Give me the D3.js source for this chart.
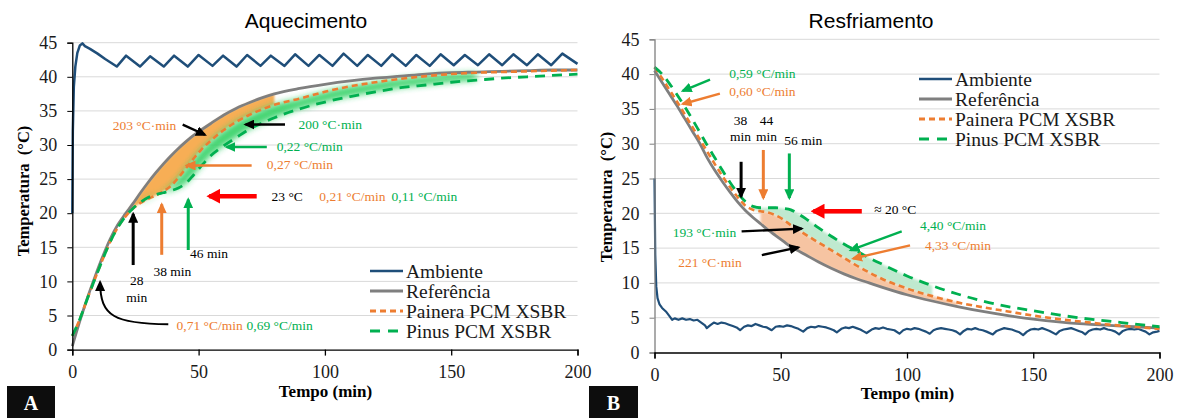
<!DOCTYPE html>
<html><head><meta charset="utf-8">
<script src="https://cdn.jsdelivr.net/npm/d3@7"></script>
<style>body{margin:0;background:#fff;}svg{display:block;}</style>
</head><body>
<svg id="chart" width="1177" height="418"></svg>
<script>
// ---------------- DATA ----------------
const seriesNames = ["Ambiente", "Referência", "Painera PCM XSBR", "Pinus PCM XSBR"];
const xTicks = [0, 50, 100, 150, 200];
const yTicks = [0, 5, 10, 15, 20, 25, 30, 35, 40, 45];
const panelTitles = ["Aquecimento", "Resfriamento"];
const panelLetters = ["A", "B"];

// Heating (Aquecimento)
const heatTime = [0,3,6,9,12,15,18,21,24,27,30,33,36,39,42,45,48,51,55,60,65,70,75,80,90,100,110,120,130,140,150,160,170,180,190,200];
const heatRef = [0.5,4.2,7.6,10.7,13.6,16.2,18.3,19.9,21.4,23.0,24.5,25.9,27.2,28.4,29.5,30.5,31.4,32.2,33.2,34.4,35.4,36.2,36.9,37.5,38.3,38.9,39.4,39.8,40.1,40.4,40.6,40.7,40.8,40.9,41.0,41.0];
const heatPainera = [2.0,4.5,7.5,10.4,13.2,15.8,17.9,19.5,20.7,21.5,22.1,22.6,23.2,24.0,25.2,26.6,28.0,29.3,30.7,32.2,33.4,34.4,35.2,35.9,36.8,37.8,38.6,39.2,39.7,40.1,40.4,40.6,40.7,40.8,40.9,41.0];
const heatPinus = [2.0,4.5,7.5,10.4,13.2,15.8,17.9,19.5,20.7,21.6,22.3,22.7,23.0,23.3,23.7,24.4,25.6,26.9,28.5,29.9,31.1,32.3,33.2,34.0,35.3,36.3,37.1,37.8,38.4,38.8,39.2,39.5,39.8,40.0,40.2,40.4];
const heatAmbTime = [0,0.2,0.6,1.2,2,3,4,5,7,10,13,17.6,21.3,26.8,30.8,36.2,40.3,45.7,50,55.5,59.7,65,69.2,74.5,78.6,84,88.2,93.5,97.8,103,107.4,112.8,117,122.3,126.6,132,136.2,141.5,145.8,151,155.4,160.6,165,170.2,174.6,180,184.3,189.6,194,200];
const heatAmb = [20,32,38.5,41.5,43.5,44.6,44.9,44.5,44.1,43.4,42.6,41.5,43.1,41.5,43.0,41.5,43.1,41.5,43.2,41.6,43.1,41.5,43.2,41.6,43.1,41.6,43.3,41.6,43.2,41.6,43.4,41.6,43.2,41.6,43.3,41.6,43.2,41.6,43.3,41.7,43.2,41.7,43.3,41.7,43.3,41.7,43.3,41.7,43.4,41.9];

// Cooling (Resfriamento)
const coolTime = [0,3,6,9,12,15,18,21,24,27,30,33,36,39,42,45,48,51,54,57,60,65,70,75,80,85,90,100,110,120,130,140,150,160,170,180,190,200];
const coolRef = [40.5,38.8,37.1,35.4,33.6,31.8,30.0,27.9,26.1,24.5,23.0,21.6,20.4,19.4,18.5,17.6,16.8,16.0,15.2,14.6,14.0,13.0,12.1,11.3,10.6,10.0,9.4,8.3,7.4,6.6,5.9,5.3,4.8,4.4,4.1,3.9,3.7,3.5];
const coolPainera = [41.0,39.4,37.7,36.0,34.2,32.4,30.6,28.8,27.0,25.3,23.7,22.3,21.1,20.5,20.3,20.1,19.7,19.1,18.3,17.6,16.9,15.8,14.7,13.6,12.5,11.5,10.6,9.2,8.1,7.2,6.5,5.9,5.3,4.8,4.4,4.0,3.7,3.4];
const coolPinus = [41.0,40.0,38.6,37.0,35.3,33.5,31.6,29.7,27.9,26.1,24.4,22.9,21.7,21.0,20.8,20.8,20.8,20.7,20.5,19.9,19.2,17.9,16.7,15.6,14.6,13.6,12.7,11.0,9.6,8.4,7.4,6.6,6.0,5.4,4.9,4.5,4.1,3.7];
const coolAmbTime = [0,0.3,0.7,1.2,2,3,4.5,6,7,8,9.5,11,12.5,14,15.5,17,18.5,20,20.7,22,23.5,25,26.5,28,29.5,31,32.5,33.9,35.5,37,38.5,40,41.5,43,44.5,46.4,48,49.5,51,52.5,54,55.5,57,58.9,60.5,62,63.5,65,66.5,68,69.5,71,72.2,74,75.5,77,78.5,80,81.5,83,84,86,87.5,89,90.5,92,93.5,95,97,98.5,100,101.5,103,104.5,106,107.5,109,110.5,112,113.5,115,116.5,118,119.5,121,122.5,124,125.5,127,128.5,130,131.5,134,135.5,137,138.5,140,141.5,143,144.5,146,147.5,149,150.5,152,153.5,155,156.5,159,160.5,162,163.5,165,166.5,168,169.5,170.6,172,173.5,175,176.5,178,179.5,181,182.5,184,185.5,187,188.5,190,191.5,193,194.5,196,197.5,199,200];
const coolAmb = [25,14,9.5,7.8,6.9,6.4,5.9,5.2,4.7,4.9,4.7,4.9,4.7,4.8,4.6,4.7,4.3,3.9,3.5,3.9,4.3,4.1,4.3,4.2,4.0,3.8,3.6,3.2,3.7,3.9,3.8,4.1,3.9,3.7,3.6,3.2,3.7,3.8,3.7,3.9,3.8,3.6,3.4,3.0,3.5,3.7,3.6,3.8,3.7,3.6,3.4,3.2,2.9,3.4,3.6,3.5,3.7,3.5,3.3,3.0,2.8,3.3,3.5,3.4,3.6,3.4,3.3,3.2,2.7,3.2,3.4,3.3,3.5,3.4,3.2,3.0,2.7,3.2,3.4,3.5,3.4,3.3,3.2,3.0,2.6,3.1,3.4,3.3,3.5,3.3,3.2,3.0,2.6,3.1,3.3,3.5,3.4,3.3,3.1,2.9,2.5,3.0,3.3,3.4,3.3,3.5,3.3,3.1,2.6,3.1,3.3,3.4,3.5,3.3,3.1,2.9,2.6,3.1,3.3,3.4,3.3,3.5,3.3,3.2,3.0,2.6,3.1,3.3,3.4,3.3,3.4,3.2,3.0,2.6,2.9,3.0,3.1];

// ---------------- STYLE ----------------
const C = {amb:"#1F4E79", ref:"#7F7F7F", pai:"#ED7D31", pin:"#00B050", red:"#FF0000", txt:"#1a1a1a"};
const SERIF = "'Liberation Serif','Times New Roman',serif";
const SANS = "'Liberation Sans',Arial,sans-serif";

const svg = d3.select("#chart");
const defs = svg.append("defs");
function marker(id, color, w, h){
  defs.append("marker").attr("id", id).attr("viewBox","0 0 10 10").attr("refX",8).attr("refY",5)
    .attr("markerUnits","userSpaceOnUse").attr("markerWidth",w).attr("markerHeight",h)
    .attr("preserveAspectRatio","none").attr("orient","auto")
    .append("path").attr("d","M0,0L10,5L0,10Z").attr("fill",color);
}
marker("mk", "#000", 11, 10); marker("mo", C.pai, 11, 10); marker("mg", C.pin, 11, 10); marker("mr", C.red, 14, 15);
function blur(id, s){ defs.append("filter").attr("id",id).attr("x","-20%").attr("y","-20%").attr("width","140%").attr("height","140%")
  .append("feGaussianBlur").attr("stdDeviation", s); }
blur("bl3", 3); blur("bl1", 1.2);

const arrowMk = {k:"mk", o:"mo", g:"mg", r:"mr"};
const arrowCol = {k:"#000", o:C.pai, g:C.pin, r:C.red};

const panels = [
  { left:72.3, right:577.5, bottom:349.6, top:42.7, yAxisColor:"#000",
    title:{x:306, y:28}, ytitle:{x:23, y:191}, xtitle:{x:325.5, y:397}, xlabPad:10,
    box:{x:7, y:386, w:48}, legend:{x:370, y:271},
    time:heatTime, ref:heatRef, pai:heatPainera, pin:heatPinus, ambT:heatAmbTime, amb:heatAmb,
    fills:[
      {a:"ref", b:"pai", from:21, to:80, color:"#F7AE55", op:1, filter:"bl1"},
      {a:"pai", b:"pin", from:27, to:165, color:"#2FD062", op:0.9, filter:"bl3"}
    ],
    arrows:[
      {c:"k", pts:[[43.7,33.0],[52.5,31.5]]},
      {c:"k", pts:[[84.2,33.0],[68.6,33.0]]},
      {c:"g", pts:[[77.0,29.7],[61.1,29.7]]},
      {c:"o", pts:[[71.0,27.0],[45.3,27.0]]},
      {c:"r", pts:[[73.0,22.5],[54.2,22.5]], w:4.5},
      {c:"k", pts:[[24.1,12.4],[24.1,19.9]], w:3},
      {c:"o", pts:[[35.4,13.9],[35.4,21.3]], w:3},
      {c:"g", pts:[[45.9,14.6],[45.9,22.0]], w:3}
    ],
    curves:[ {c:"k", pts:[[38,3.7],[17,3.8],[11,4.8],[11,9.9]]} ],
    texts:[
      {t:"203 °C·min", x:16.0, y:32.9, c:"o"},
      {t:"200 °C·min", x:89.5, y:33.0, c:"g"},
      {t:"0,22 °C/min", x:80.9, y:29.8, c:"g"},
      {t:"0,27 °C/min", x:77.0, y:27.2, c:"o"},
      {t:"23 °C", x:78.9, y:22.4, c:"k"},
      {t:"0,21 °C/min", x:97.8, y:22.4, c:"o"},
      {t:"0,11 °C/min", x:126.4, y:22.4, c:"g"},
      {t:"28", x:25.5, y:10.2, c:"k", anchor:"middle"},
      {t:"min", x:25.5, y:7.7, c:"k", anchor:"middle"},
      {t:"38 min", x:32.1, y:11.4, c:"k"},
      {t:"46 min", x:46.6, y:14.1, c:"k"},
      {t:"0,71 °C/min", x:41.3, y:3.6, c:"o"},
      {t:"0,69 °C/min", x:69.0, y:3.6, c:"g"}
    ]
  },
  { left:654.5, right:1159.5, bottom:352.5, top:39.3, yAxisColor:"#7F7F7F",
    title:{x:871, y:28}, ytitle:{x:606, y:197}, xtitle:{x:907.5, y:399}, xlabPad:10,
    box:{x:589, y:386, w:49}, legend:{x:919, y:79},
    time:coolTime, ref:coolRef, pai:coolPainera, pin:coolPinus, ambT:coolAmbTime, amb:coolAmb,
    fills:[
      {a:"pin", b:"pai", from:39, to:115, color:"#BFE9CF", op:1, filter:"bl1"},
      {a:"pai", b:"ref", from:40, to:125, color:"#F6C4A2", op:1, filter:"bl1"}
    ],
    arrows:[
      {c:"g", pts:[[22.0,39.2],[11.2,37.6]]},
      {c:"o", pts:[[25.9,37.2],[11.2,35.7]]},
      {c:"k", pts:[[34.3,27.4],[34.3,22.4]], w:3},
      {c:"o", pts:[[43.1,29.1],[43.1,22.2]], w:3},
      {c:"g", pts:[[53.4,28.6],[53.4,22.2]], w:3},
      {c:"r", pts:[[82.1,20.3],[62.9,20.3]], w:4.5},
      {c:"g", pts:[[97.9,17.4],[77.7,14.7]]},
      {c:"o", pts:[[101.2,15.4],[78.7,13.5]]},
      {c:"k", pts:[[34.5,17.4],[58.3,17.8]]},
      {c:"k", pts:[[42.5,14.0],[57.0,15.1]]}
    ],
    curves:[],
    texts:[
      {t:"0,59 °C/min", x:29.6, y:40.1, c:"g"},
      {t:"0,60 °C/min", x:29.6, y:37.5, c:"o"},
      {t:"38", x:34.1, y:33.4, c:"k", anchor:"middle"},
      {t:"min", x:34.1, y:31.0, c:"k", anchor:"middle"},
      {t:"44", x:44.4, y:33.4, c:"k", anchor:"middle"},
      {t:"min", x:44.4, y:31.0, c:"k", anchor:"middle"},
      {t:"56 min", x:58.9, y:30.5, c:"k", anchor:"middle"},
      {t:"≈ 20 °C", x:87.0, y:20.6, c:"k"},
      {t:"4,40 °C/min", x:105.1, y:18.2, c:"g"},
      {t:"4,33 °C/min", x:107.1, y:15.4, c:"o"},
      {t:"193 °C·min", x:7.2, y:17.3, c:"g"},
      {t:"221 °C·min", x:9.4, y:13.0, c:"o"}
    ]
  }
];

panels.forEach((p, pi) => {
  const x = d3.scaleLinear().domain([0,200]).range([p.left, p.right]);
  const y = d3.scaleLinear().domain([0,45]).range([p.bottom, p.top]);
  const g = svg.append("g");

  // grid
  g.selectAll("line.grid").data(yTicks.filter(d => d > 0)).join("line")
    .attr("x1", p.left).attr("x2", p.right).attr("y1", d => y(d)).attr("y2", d => y(d))
    .attr("stroke", "#D9D9D9").attr("stroke-width", 1);

  // fills
  const series = {ref:p.ref, pai:p.pai, pin:p.pin};
  p.fills.forEach(f => {
    const rows = p.time.map((t,i) => ({t, a:series[f.a][i], b:series[f.b][i]})).filter(r => r.t >= f.from && r.t <= f.to);
    const area = d3.area().x(d => x(d.t)).y0(d => y(d.a)).y1(d => y(d.b)).curve(d3.curveMonotoneX);
    g.append("path").attr("d", area(rows)).attr("fill", f.color).attr("opacity", f.op).attr("filter", `url(#${f.filter})`);
  });

  // lines
  const lineT = d3.line().x(d => x(d[0])).y(d => y(d[1]));
  const smooth = d3.line().x(d => x(d[0])).y(d => y(d[1])).curve(d3.curveMonotoneX);
  g.append("path").attr("d", lineT(p.ambT.map((t,i) => [t, p.amb[i]])))
    .attr("fill","none").attr("stroke", C.amb).attr("stroke-width", pi === 0 ? 2.5 : 2.2).attr("stroke-linejoin","round");
  g.append("path").attr("d", smooth(p.time.map((t,i) => [t, p.ref[i]])))
    .attr("fill","none").attr("stroke", C.ref).attr("stroke-width", 2.8);
  g.append("path").attr("d", smooth(p.time.map((t,i) => [t, p.pai[i]])))
    .attr("fill","none").attr("stroke", C.pai).attr("stroke-width", 2.6).attr("stroke-dasharray","6,4");
  g.append("path").attr("d", smooth(p.time.map((t,i) => [t, p.pin[i]])))
    .attr("fill","none").attr("stroke", C.pin).attr("stroke-width", 2.8).attr("stroke-dasharray","10,7");

  // axes
  const ya = g.append("g").attr("transform", `translate(${p.left},0)`)
    .call(d3.axisLeft(y).tickValues(yTicks).tickSize(5).tickPadding(10));
  ya.select(".domain").attr("stroke", p.yAxisColor).attr("stroke-width", 1.3);
  ya.selectAll(".tick line").attr("stroke", p.yAxisColor);
  ya.selectAll("text").attr("font-family", SERIF).attr("font-size", 18).attr("fill", C.txt);

  const xa = g.append("g").attr("transform", `translate(0,${p.bottom})`)
    .call(d3.axisBottom(x).tickValues(xTicks).tickSize(6).tickPadding(p.xlabPad));
  xa.select(".domain").attr("stroke", "#000").attr("stroke-width", 1.3);
  xa.selectAll(".tick line").attr("stroke", "#000").attr("stroke-width", 1.3);
  xa.selectAll("text").attr("font-family", SERIF).attr("font-size", 18).attr("fill", C.txt);

  // titles
  g.append("text").attr("x", p.title.x).attr("y", p.title.y).attr("text-anchor","middle")
    .attr("font-family", SANS).attr("font-size", 21).attr("fill", "#000").text(panelTitles[pi]);
  g.append("text").attr("transform", `translate(${p.ytitle.x},${p.ytitle.y}) rotate(-90)`)
    .attr("text-anchor","middle").attr("dominant-baseline","central")
    .attr("font-family", SERIF).attr("font-weight","bold").attr("font-size", 16.5).attr("fill", "#000")
    .attr("xml:space","preserve").text("Temperatura  (°C)");
  g.append("text").attr("x", p.xtitle.x).attr("y", p.xtitle.y).attr("text-anchor","middle")
    .attr("font-family", SERIF).attr("font-weight","bold").attr("font-size", 17).attr("fill", "#000").text("Tempo (min)");

  // letter box
  g.append("rect").attr("x", p.box.x).attr("y", p.box.y).attr("width", p.box.w).attr("height", 418 - p.box.y).attr("fill", "#0d0d0d");
  g.append("text").attr("x", p.box.x + p.box.w/2).attr("y", p.box.y + 24).attr("text-anchor","middle")
    .attr("font-family", SERIF).attr("font-weight","bold").attr("font-size", 20).attr("fill", "#fff").text(panelLetters[pi]);

  // annotations
  p.arrows.forEach(a => {
    g.append("line").attr("x1", x(a.pts[0][0])).attr("y1", y(a.pts[0][1])).attr("x2", x(a.pts[1][0])).attr("y2", y(a.pts[1][1]))
      .attr("stroke", arrowCol[a.c]).attr("stroke-width", a.w || 2.4).attr("marker-end", `url(#${arrowMk[a.c]})`);
  });
  p.curves.forEach(cv => {
    const q = cv.pts.map(d => [x(d[0]), y(d[1])]);
    g.append("path").attr("d", `M${q[0]}C${q[1]} ${q[2]} ${q[3]}`).attr("fill","none")
      .attr("stroke", arrowCol[cv.c]).attr("stroke-width", 2).attr("marker-end", `url(#${arrowMk[cv.c]})`);
  });
  p.texts.forEach(t => {
    g.append("text").attr("x", x(t.x)).attr("y", y(t.y)).attr("dominant-baseline","central")
      .attr("text-anchor", t.anchor || "start").attr("font-family", SERIF).attr("font-size", 13.5)
      .attr("fill", t.c === "k" ? "#000" : arrowCol[t.c]).text(t.t);
  });

  // legend
  const styles = [
    {stroke:C.amb, dash:null, w:2.5},
    {stroke:C.ref, dash:null, w:2.8},
    {stroke:C.pai, dash:"6,4", w:3},
    {stroke:C.pin, dash:"10,8", w:3}
  ];
  const lg = g.append("g");
  seriesNames.forEach((name, i) => {
    const yy = p.legend.y + i * 20;
    lg.append("line").attr("x1", p.legend.x).attr("x2", p.legend.x + 33).attr("y1", yy).attr("y2", yy)
      .attr("stroke", styles[i].stroke).attr("stroke-width", styles[i].w).attr("stroke-dasharray", styles[i].dash);
    lg.append("text").attr("x", p.legend.x + 36).attr("y", yy).attr("dominant-baseline","central")
      .attr("font-family", SERIF).attr("font-size", 19.5).attr("fill", C.txt).text(name);
  });
});
</script>
</body></html>
